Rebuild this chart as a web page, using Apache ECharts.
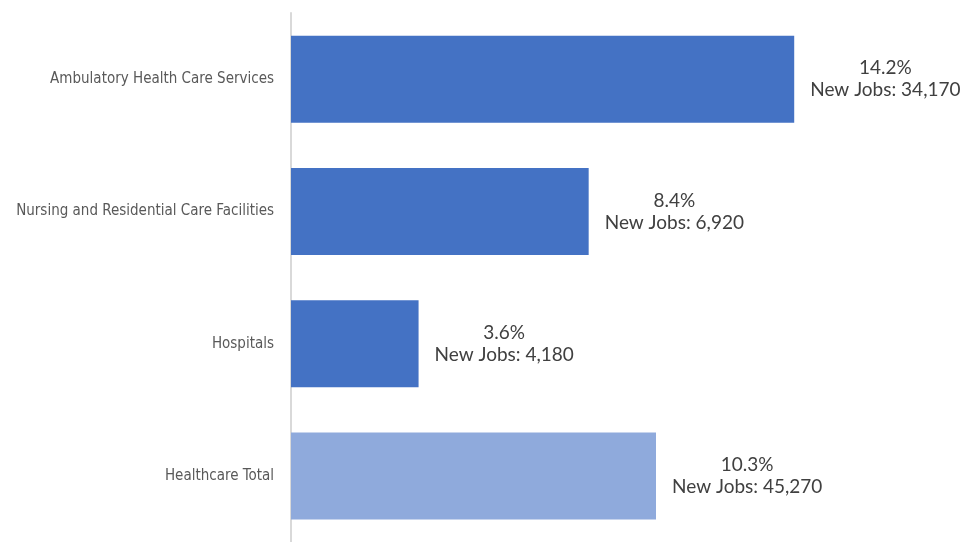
<!DOCTYPE html>
<html>
<head>
<meta charset="utf-8">
<script src="https://cdn.jsdelivr.net/npm/echarts@6/dist/echarts.min.js"></script>
<style>
  html, body { margin: 0; padding: 0; background: #fff; }
  #chart { width: 966px; height: 542px; }
</style>
</head>
<body>
<div id="chart"></div>
<script>
// Healthcare job growth by sector (top to bottom as drawn)
const categories = [
  'Ambulatory Health Care Services',
  'Nursing and Residential Care Facilities',
  'Hospitals',
  'Healthcare Total'
];
const growthPct = [14.2, 8.4, 3.6, 10.3];
const newJobs = ['34,170', '6,920', '4,180', '45,270'];
const barColors = ['#4472C4', '#4472C4', '#4472C4', '#8FAADC'];

const chart = echarts.init(document.getElementById('chart'));

// Two-line value label, both lines centred inside the label box
const seriesData = growthPct.map((v, i) => ({
  value: v,
  itemStyle: { color: barColors[i] },
  label: {
    formatter: '{a|' + v.toFixed(1) + '%}\n{a|New Jobs: ' + newJobs[i] + '}'
  }
}));

chart.setOption({
  animation: false,
  grid: { left: 291, right: 108, top: 13, height: 536, containLabel: false },
  xAxis: {
    type: 'value',
    min: 0,
    max: 16,
    show: false
  },
  yAxis: {
    type: 'category',
    data: categories,
    inverse: true,
    axisLine: { show: true, lineStyle: { color: '#D9D9D9', width: 2 } },
    axisTick: { show: false },
    axisLabel: {
      margin: 17,
      color: '#595959',
      fontSize: 15,
      fontFamily: '"Liberation Sans Narrow", "Arial Narrow", "DejaVu Sans Condensed", sans-serif'
    }
  },
  series: [{
    type: 'bar',
    data: seriesData,
    barWidth: 87,
    label: {
      show: true,
      position: 'right',
      distance: 16,
      rich: {
        a: {
          align: 'center',
          fontSize: 19,
          lineHeight: 22,
          color: '#404040',
          fontFamily: 'Lato, "Open Sans", sans-serif'
        }
      }
    }
  }]
});
</script>
</body>
</html>
